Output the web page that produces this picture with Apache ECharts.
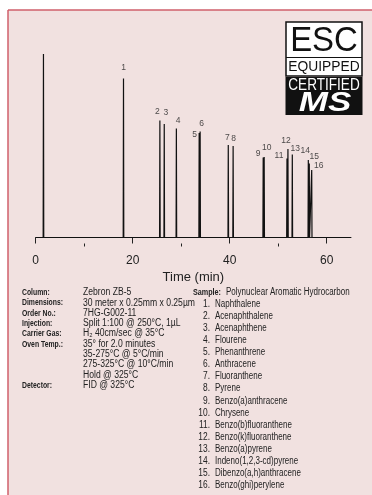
<!DOCTYPE html>
<html>
<head>
<meta charset="utf-8">
<script src="https://cdn.jsdelivr.net/npm/echarts@6/dist/echarts.min.js"></script>
<style>
html,body{margin:0;padding:0;background:#fff;}
#chart{width:372px;height:495px;}
</style>
</head>
<body>
<div id="chart"></div>
<script>
// ---- data ----
const peakTimes   = [1.6, 18.1, 25.6, 26.5, 29.0, 33.7, 33.9, 39.7, 40.7, 46.9, 47.1, 51.8, 52.0, 52.9, 56.2, 56.4, 56.9];
const peakHeights = [183.5, 159, 117, 113.5, 109, 104.5, 106, 92.5, 91.5, 80, 80.5, 79, 88.5, 83, 77.5, 74, 67.5];
const peakNames   = ['', '1', '2', '3', '4', '5', '6', '7', '8', '9', '10', '11', '12', '13', '14', '15', '16'];
const majorTicks  = [0, 20, 40, 60];
const minorTicks  = [10, 30, 50];
const specLabels  = ['Column:', 'Dimensions:', 'Order No.:', 'Injection:', 'Carrier Gas:', 'Oven Temp.:', '', '', '', 'Detector:'];
const specValues  = ['Zebron ZB-5', '30 meter x 0.25mm x 0.25µm', '7HG-G002-11', 'Split 1:100 @ 250°C, 1µL',
                     'H\u2082 40cm/sec @ 35°C', '35° for 2.0 minutes', '35-275°C @ 5°C/min', '275-325°C @ 10°C/min',
                     'Hold @ 325°C', 'FID @ 325°C'];
const sampleTitle = 'Polynuclear Aromatic Hydrocarbon';
const compounds   = ['Naphthalene', 'Acenaphthalene', 'Acenaphthene', 'Flourene', 'Phenanthrene', 'Anthracene',
                     'Fluoranthene', 'Pyrene', 'Benzo(a)anthracene', 'Chrysene', 'Benzo(b)fluoranthene',
                     'Benzo(k)fluoranthene', 'Benzo(a)pyrene', 'Indeno(1,2,3-cd)pyrene', 'Dibenzo(a,h)anthracene',
                     'Benzo(ghi)perylene'];

// ---- build ----
const xMax = 65;
const halfW = 0.06;
const trace = [[0, 0]];
peakTimes.forEach((t, i) => {
  trace.push([t - halfW, 0], [t, peakHeights[i]], [t + halfW, 0]);
});
trace.push([xMax, 0]);

const labelOffsets = [[0,0],[0,-11],[-2.5,-9],[1.7,-11],[1.7,-8],[-4.5,2],[1.5,-8],[-1,-7],[0.5,-7],
  [-5,-3.5],[2.5,-9],[-8,-3],[-2,-8],[3,-6],[-3,-9],[5,-7],[7,-4]];
const labelData = peakTimes.map((t, i) => ({
  value: [t, peakHeights[i]],
  name: peakNames[i],
  label: { offset: labelOffsets[i] }
}));

const FONT = '"Liberation Sans", Arial, sans-serif';
const TXT = '#222';

function txt(x, y, s, o) {
  o = o || {};
  const align = o.align || 'left';
  return {
    type: 'text', x: x, y: y, scaleX: o.sx || 0.84, scaleY: 1, z: 10,
    style: {
      text: s, fontSize: o.size || 10, fontFamily: FONT, fontWeight: o.weight || 'normal',
      fontStyle: o.style || 'normal',
      fill: o.fill || TXT, textAlign: align, align: align,
      textVerticalAlign: 'middle', verticalAlign: 'middle'
    }
  };
}

const graphics = [];
// background
graphics.push({ type: 'rect', z: -10, shape: { x: 8, y: 10, width: 364, height: 485 }, style: { fill: '#f1e1e0' } });
graphics.push({ type: 'line', z: -9, shape: { x1: 8, y1: 10, x2: 372, y2: 10 }, style: { stroke: '#cf5f6b', lineWidth: 1.5 } });
graphics.push({ type: 'line', z: -9, shape: { x1: 8, y1: 10, x2: 8, y2: 495 }, style: { stroke: '#cf5f6b', lineWidth: 1.5 } });

// logo
graphics.push({ type: 'rect', z: 5, shape: { x: 286, y: 22, width: 76, height: 54 }, style: { fill: '#fff', stroke: '#111', lineWidth: 1.5 } });
graphics.push({ type: 'line', z: 6, shape: { x1: 286, y1: 57.5, x2: 362, y2: 57.5 }, style: { stroke: '#111', lineWidth: 1 } });
graphics.push({ type: 'rect', z: 5, shape: { x: 285.5, y: 77, width: 77, height: 38 }, style: { fill: '#111' } });
graphics.push(txt(324, 41, 'ESC', { size: 35, sx: 0.94, align: 'center', fill: '#111' }));
graphics.push(txt(324, 67, 'EQUIPPED', { size: 15, sx: 0.92, align: 'center', fill: '#111' }));
graphics.push(txt(324, 85.5, 'CERTIFIED', { size: 17, sx: 0.8, align: 'center', fill: '#fff' }));
graphics.push(txt(325, 103.5, 'MS', { size: 28, sx: 1.25, align: 'center', fill: '#fff', weight: 'bold', style: 'italic' }));

// spec block
const row0 = 292.5, leftStep = 10.3;
specLabels.forEach((s, i) => {
  if (s) graphics.push(txt(22, row0 + i * leftStep, s, { size: 9.5, sx: 0.72, weight: 'bold' }));
});
specValues.forEach((s, i) => {
  graphics.push(txt(83, row0 + i * leftStep, s, { size: 10, sx: 0.86 }));
});
graphics.push(txt(221, row0, 'Sample:', { size: 9.5, sx: 0.76, weight: 'bold', align: 'right' }));
graphics.push(txt(226, row0, sampleTitle, { size: 10, sx: 0.8 }));
const listStep = 12.1, list0 = 304;
compounds.forEach((s, i) => {
  graphics.push(txt(210, list0 + i * listStep, (i + 1) + '.', { size: 10, sx: 0.84, align: 'right' }));
  graphics.push(txt(215, list0 + i * listStep, s, { size: 10, sx: 0.8 }));
});

const option = {
  animation: false,
  backgroundColor: 'transparent',
  grid: { left: 35.7, right: 21, top: 37.5, bottom: 257.5, containLabel: false, outerBoundsMode: 'none' },
  xAxis: [{
    type: 'value', min: 0, max: xMax, interval: 20, offset: 6,
    axisLine: { show: true, lineStyle: { color: '#222', width: 1 } },
    axisTick: { show: true, customValues: majorTicks, length: 6, lineStyle: { color: '#222', width: 1 } },
    axisLabel: { customValues: majorTicks, fontSize: 12, color: '#222', margin: 11, fontFamily: FONT },
    splitLine: { show: false },
    name: 'Time (min)', nameLocation: 'middle', nameGap: 27,
    nameTextStyle: { fontSize: 13, color: '#222', fontFamily: FONT }
  }, {
    type: 'value', min: 0, max: xMax, position: 'bottom', offset: 6,
    axisLine: { show: false },
    axisTick: { show: true, customValues: minorTicks, length: 3, lineStyle: { color: '#222', width: 1 } },
    axisLabel: { show: false },
    splitLine: { show: false }
  }],
  yAxis: { type: 'value', min: 0, max: 200, show: false },
  series: [{
    type: 'line', data: trace, xAxisIndex: 0, showSymbol: false, symbol: 'none',
    lineStyle: { color: '#111', width: 1.2 }, z: 3
  }, {
    type: 'scatter', data: labelData, xAxisIndex: 0, symbolSize: 0, z: 4,
    label: { show: true, position: 'inside', formatter: p => p.name, fontSize: 8.5, color: '#222', fontFamily: FONT }
  }],
  graphic: graphics
};

const chart = echarts.init(document.getElementById('chart'), null, { renderer: 'canvas' });
chart.setOption(option);
</script>
</body>
</html>
